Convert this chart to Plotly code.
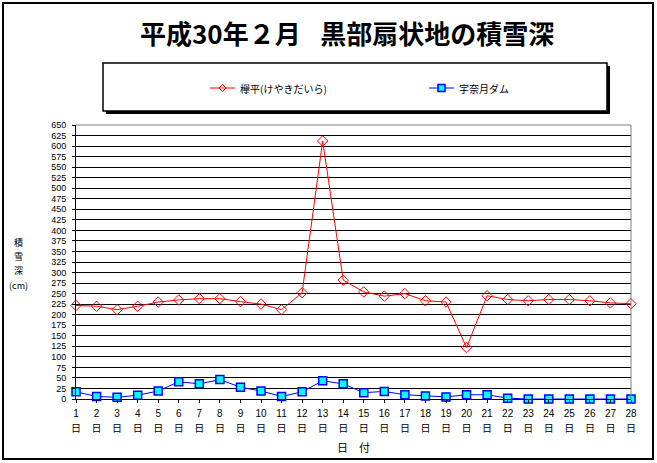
import plotly.graph_objects as go

days = list(range(1, 29))
day_nums = [str(d) for d in days]
day_unit = ["日"] * len(days)
keyakidaira = [222, 220, 212, 220, 230, 235, 238, 238, 231, 225, 212, 252, 612, 282,
               254, 244, 250, 233, 230, 122, 245, 236, 233, 236, 236, 233, 228, 226]
unazuki = [17, 6, 4, 9, 19, 41, 36, 46, 28, 19, 6, 17, 43, 36,
           15, 18, 10, 7, 5, 10, 10, 2, 0, 0, 0, 0, 0, 0]
y_ticks = list(range(0, 651, 25))
series_names = ["欅平(けやきだいら)", "宇奈月ダム"]
title_text = "平成30年２月\u2002\u2005黒部扇状地の積雪深"
y_title_parts = ["積", "雪", "深", "(cm)"]

W, H = 657, 463
L, R, T, B = 76, 26, 125, 64
PW, PH = W - L - R, H - T - B

def px(x):
    return (x - L) / PW

def py(y):
    return (H - B - y) / PH

FONT = "Noto Sans CJK JP"
NUMFONT = "Liberation Sans"

fig = go.Figure()
fig.add_trace(go.Scatter(
    x=days, y=keyakidaira, mode="lines+markers", name=series_names[0],
    line=dict(color="#FF0000", width=1),
    marker=dict(symbol="diamond-open", size=8, color="#FF0000", line=dict(width=1)),
    cliponaxis=False, showlegend=False))
fig.add_trace(go.Scatter(
    x=days, y=unazuki, mode="lines+markers", name=series_names[1],
    line=dict(color="#0000FF", width=1),
    marker=dict(symbol="square", size=8, color="#00FFFF", line=dict(color="#0000FF", width=1.5)),
    cliponaxis=False, showlegend=False))
fig.add_trace(go.Scatter(x=[], y=[], xaxis="x2", yaxis="y", showlegend=False, hoverinfo="skip"))

shapes = []
shapes.append(dict(type="rect", xref="paper", yref="paper",
                   x0=px(3), x1=px(653), y0=py(3), y1=py(459),
                   line=dict(color="black", width=2), fillcolor="rgba(0,0,0,0)", layer="below"))
shapes.append(dict(type="rect", xref="paper", yref="paper",
                   x0=px(106), x1=px(610), y0=py(66), y1=py(114),
                   line=dict(width=0), fillcolor="black", layer="above"))
shapes.append(dict(type="rect", xref="paper", yref="paper",
                   x0=px(103), x1=px(607), y0=py(63), y1=py(111),
                   line=dict(color="black", width=1.5), fillcolor="white", layer="above"))
shapes.append(dict(type="line", xref="paper", yref="paper", x0=0, x1=1, y0=1, y1=1,
                   line=dict(color="#808080", width=1), layer="above"))
shapes.append(dict(type="line", xref="paper", yref="paper", x0=1, x1=1, y0=0, y1=1,
                   line=dict(color="#808080", width=1), layer="above"))
ly = 88
shapes.append(dict(type="line", xref="paper", yref="paper", x0=px(210), x1=px(235),
                   y0=py(ly), y1=py(ly), line=dict(color="#FF0000", width=1), layer="above"))
dx, dy = 3.5 / PW, 3.5 / PH
cx, cy = px(222.5), py(ly)
shapes.append(dict(type="path", xref="paper", yref="paper",
                   path=f"M {cx-dx} {cy} L {cx} {cy+dy} L {cx+dx} {cy} L {cx} {cy-dy} Z",
                   line=dict(color="#FF0000", width=1), fillcolor="rgba(0,0,0,0)", layer="above"))
shapes.append(dict(type="line", xref="paper", yref="paper", x0=px(429), x1=px(454),
                   y0=py(ly), y1=py(ly), line=dict(color="#0000FF", width=1), layer="above"))
shapes.append(dict(type="rect", xref="paper", yref="paper",
                   x0=px(438), x1=px(445), y0=py(ly + 3.5), y1=py(ly - 3.5),
                   line=dict(color="#0000FF", width=1.5), fillcolor="#00FFFF", layer="above"))

annotations = [
    dict(text=f"<b>{title_text}</b>", xref="paper", yref="paper", x=px(347), y=py(33),
         xanchor="center", yanchor="middle", showarrow=False,
         font=dict(family=FONT, size=26, color="black")),
    dict(text=series_names[0], xref="paper", yref="paper", x=px(238), y=py(ly),
         xanchor="left", yanchor="middle", showarrow=False,
         font=dict(family=FONT, size=10, color="black")),
    dict(text=series_names[1], xref="paper", yref="paper", x=px(457), y=py(ly),
         xanchor="left", yanchor="middle", showarrow=False,
         font=dict(family=FONT, size=10, color="black")),
    dict(text="日　付", xref="paper", yref="paper", x=px(353), y=py(447),
         xanchor="center", yanchor="middle", showarrow=False,
         font=dict(family=FONT, size=11, color="black")),
]
for part, yy in zip(y_title_parts, [242, 256, 270, 285]):
    annotations.append(dict(text=part, xref="paper", yref="paper", x=px(18), y=py(yy),
                            xanchor="center", yanchor="middle", showarrow=False,
                            font=dict(family=FONT, size=9, color="black")))

fig.update_layout(
    width=W, height=H,
    margin=dict(l=L, r=R, t=T, b=B, pad=0),
    paper_bgcolor="white", plot_bgcolor="white",
    shapes=shapes, annotations=annotations,
    font=dict(family=FONT, color="black"),
    xaxis=dict(range=[1, 28], tickmode="array", tickvals=days, ticktext=day_nums,
               showgrid=False, zeroline=False, showline=True, linecolor="black", linewidth=1,
               ticks="outside", ticklen=3, tickcolor="black", ticklabelstandoff=2,
               tickfont=dict(family=NUMFONT, size=10, color="black")),
    xaxis2=dict(range=[1, 28], overlaying="x", anchor="y", side="bottom",
                tickmode="array", tickvals=days, ticktext=day_unit,
                showgrid=False, zeroline=False, showline=False, ticks="",
                ticklabelstandoff=22,
                tickfont=dict(family=FONT, size=10, color="black")),
    yaxis=dict(range=[0, 650], tickmode="array", tickvals=y_ticks,
               showgrid=True, gridcolor="black", gridwidth=1, zeroline=False,
               showline=True, linecolor="black", linewidth=1,
               ticks="outside", ticklen=3, tickcolor="black", ticklabelstandoff=4,
               tickfont=dict(family=NUMFONT, size=9, color="black")),
)

fig.write_html("out.html")
